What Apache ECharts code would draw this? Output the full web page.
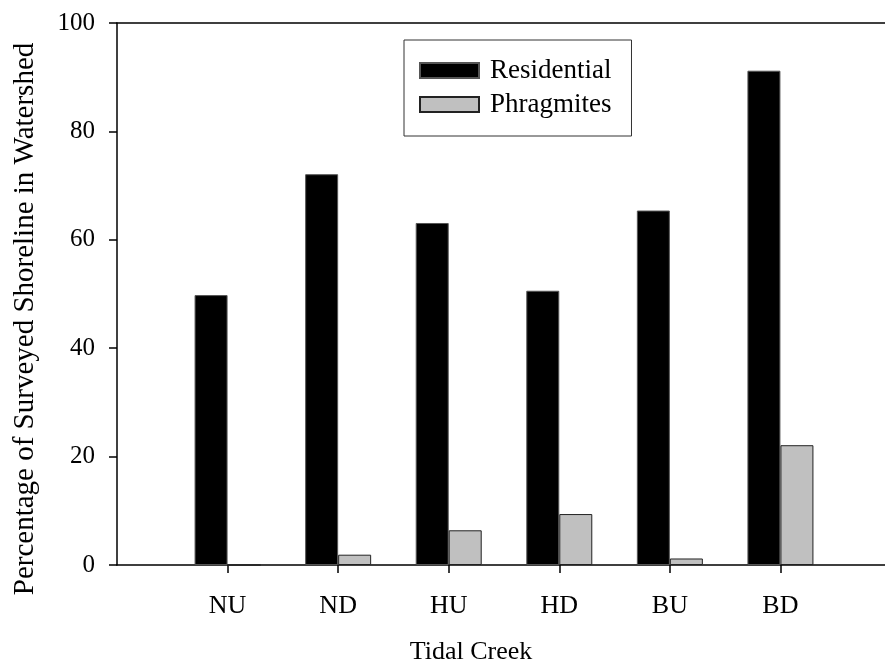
<!DOCTYPE html>
<html>
<head>
<meta charset="utf-8">
<script src="https://cdn.jsdelivr.net/npm/echarts@6/dist/echarts.min.js"></script>
<style>
html, body { margin: 0; padding: 0; background: #fff; overflow: hidden; }
/* the original plot runs a few pixels past the right edge of the picture */
#main { width: 894px; height: 664px; }
</style>
</head>
<body>
<div id="main"></div>
<script>
// creeks, padded with empty slots at both ends of the axis
var creeks = ['', 'NU', 'ND', 'HU', 'HD', 'BU', 'BD', ''];
var residential = [null, 49.8, 72.1, 63.1, 50.6, 65.4, 91.2, null];
var phragmites = [null, 0, 1.9, 6.4, 9.4, 1.2, 22.1, null];
var yMin = 0, yMax = 100, yStep = 20;

var font = '"Liberation Serif", "DejaVu Serif", serif';
var chart = echarts.init(document.getElementById('main'));

chart.setOption({
    animation: false,
    backgroundColor: '#fff',
    textStyle: { fontFamily: font, color: '#000' },
    grid: { left: 117, top: 23, bottom: 99, right: 0 },
    legend: {
        orient: 'vertical',
        left: 404,
        top: 40,
        padding: [17, 20, 18, 15],
        itemGap: 7,
        itemWidth: 59,
        itemHeight: 15,
        borderColor: '#333',
        borderWidth: 1,
        icon: 'rect',
        textStyle: { fontFamily: font, fontSize: 27, color: '#000', lineHeight: 26, padding: [0, 0, 0, 6] },
        data: ['Residential', 'Phragmites']
    },
    xAxis: [{
        type: 'category',
        data: creeks,
        boundaryGap: false,
        axisLine: { lineStyle: { color: '#000', width: 1.5 } },
        axisTick: {
            length: 8,
            lineStyle: { color: '#000', width: 1.5 },
            interval: function (i, v) { return v !== ''; }
        },
        axisLabel: { margin: 28, fontSize: 26, color: '#000', fontFamily: font, interval: 0 },
        splitLine: { show: false }
    }, {
        type: 'category',
        data: creeks,
        position: 'top',
        boundaryGap: false,
        axisLine: { lineStyle: { color: '#000', width: 1.5 } },
        axisTick: { show: false },
        axisLabel: { show: false }
    }],
    yAxis: {
        type: 'value',
        min: yMin,
        max: yMax,
        interval: yStep,
        axisLine: { show: true, lineStyle: { color: '#000', width: 1.5 } },
        axisTick: { show: true, length: 8, lineStyle: { color: '#000', width: 1.5 } },
        axisLabel: { margin: 22, fontSize: 25, color: '#000', fontFamily: font },
        splitLine: { show: false }
    },
    graphic: [{
        type: 'text',
        x: 25, y: 319,
        rotation: Math.PI / 2,
        style: {
            text: 'Percentage of Surveyed Shoreline in Watershed',
            font: '29px ' + font,
            fill: '#000',
            align: 'center',
            verticalAlign: 'middle'
        }
    }, {
        type: 'text',
        x: 471, y: 652,
        style: {
            text: 'Tidal Creek',
            font: '26px ' + font,
            fill: '#000',
            align: 'center',
            verticalAlign: 'middle'
        }
    }],
    series: [{
        name: 'Residential',
        type: 'bar',
        data: residential,
        barWidth: 33,
        barGap: '0%',
        itemStyle: { color: '#000', borderColor: '#555', borderWidth: 1 }
    }, {
        name: 'Phragmites',
        type: 'bar',
        data: phragmites,
        barWidth: 33,
        itemStyle: { color: '#c0c0c0', borderColor: '#222', borderWidth: 1 }
    }]
});
</script>
</body>
</html>
